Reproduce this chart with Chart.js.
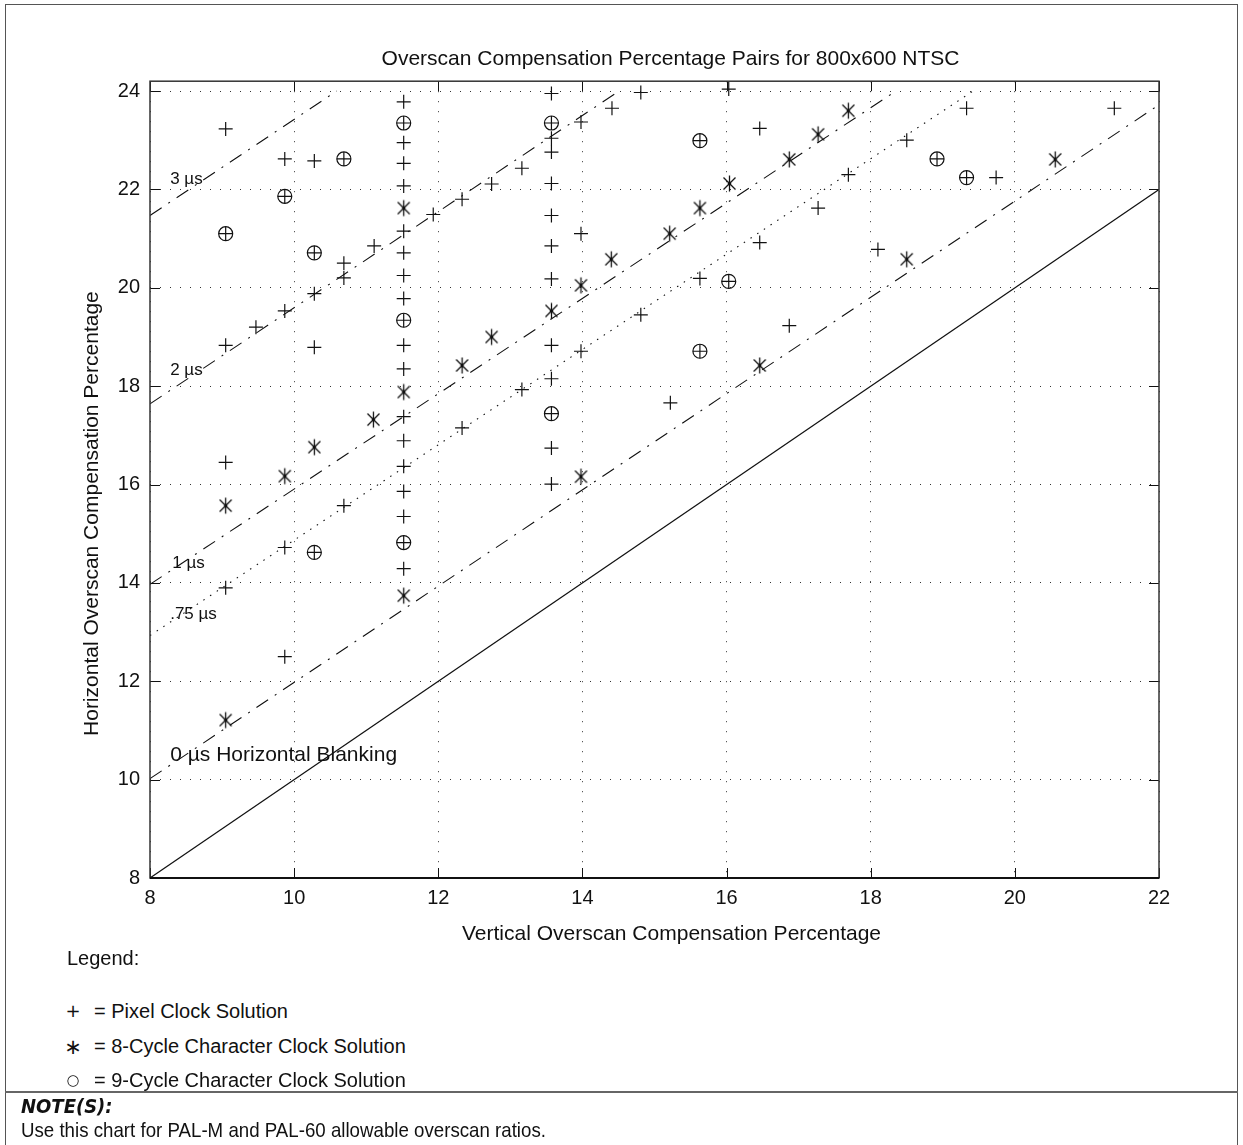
<!DOCTYPE html>
<html><head><meta charset="utf-8">
<script src="https://cdn.jsdelivr.net/npm/chart.js@4.4.1/dist/chart.umd.min.js"></script>
<style>
html,body{margin:0;padding:0;background:#fff;}
body{width:1243px;height:1145px;position:relative;overflow:hidden;font-family:"Liberation Sans",Arial,sans-serif;color:#111;}
#frame{position:absolute;left:5px;top:4px;width:1233px;height:1160px;border:1px solid #555;box-sizing:border-box;}
#sep{position:absolute;left:5px;width:1233px;top:1091px;height:0;border-top:2px solid #666;}
#wrap{position:absolute;left:0;top:0;width:1243px;height:960px;}
.leg{position:absolute;left:94px;font-size:20px;line-height:24px;white-space:nowrap;}
.sym{position:absolute;left:62px;width:22px;text-align:center;font-family:"DejaVu Sans",sans-serif;line-height:24px;}
.note{position:absolute;left:21px;font-size:21px;line-height:24px;white-space:nowrap;transform-origin:0 50%;}
</style></head>
<body>
<div id="frame"></div>
<div id="wrap"><canvas id="c"></canvas></div>
<div class="leg" style="top:946px;left:67px;">Legend:</div>
<div class="sym" style="top:999px;font-size:18px;">+</div><div class="leg" style="top:999px;">= Pixel Clock Solution</div>
<div class="sym" style="top:1035px;font-size:21px;">∗</div><div class="leg" style="top:1034px;">= 8-Cycle Character Clock Solution</div>
<div class="sym" style="top:1068px;font-size:15px;">○</div><div class="leg" style="top:1068px;">= 9-Cycle Character Clock Solution</div>
<div id="sep"></div>
<div class="note" style="top:1094px;font-family:'DejaVu Sans Condensed','DejaVu Sans',sans-serif;font-size:20px;font-weight:bold;font-style:italic;">NOTE(S):</div>
<div class="note" style="top:1118px;transform:scaleX(0.89);">Use this chart for PAL-M and PAL-60 allowable overscan ratios.</div>
<script>
// ---- data (Vertical %, Horizontal %) ----
const pixelClockPts = [
  [9.05,23.23],[9.05,21.10],[9.05,18.83],[9.05,16.45],[9.05,13.90],
  [9.47,19.20],
  [9.87,22.62],[9.87,21.86],[9.87,19.53],[9.87,14.72],[9.87,12.50],
  [10.28,22.58],[10.28,20.71],[10.28,19.88],[10.28,18.79],[10.28,14.62],
  [10.69,22.62],[10.69,20.50],[10.69,20.20],[10.69,15.57],
  [11.11,20.85],
  [11.52,23.78],[11.52,23.35],[11.52,22.95],[11.52,22.53],[11.52,22.07],[11.52,21.15],[11.52,20.71],
  [11.52,20.25],[11.52,19.78],[11.52,19.34],[11.52,18.83],[11.52,18.35],[11.52,17.38],[11.52,16.89],
  [11.52,16.37],[11.52,15.86],[11.52,15.35],[11.52,14.82],[11.52,14.29],
  [11.93,21.49],
  [12.33,21.80],[12.33,17.15],
  [12.74,22.11],
  [13.16,22.43],[13.16,17.93],
  [13.57,23.95],[13.57,23.35],[13.57,23.04],[13.57,22.76],[13.57,22.12],[13.57,21.47],[13.57,20.85],
  [13.57,20.18],[13.57,18.83],[13.57,18.15],[13.57,17.44],[13.57,16.74],[13.57,16.01],
  [13.98,23.37],[13.98,21.10],[13.98,18.71],
  [14.41,23.65],
  [14.81,23.97],[14.81,19.45],
  [15.22,17.66],
  [15.63,22.99],[15.63,20.19],[15.63,18.71],
  [16.03,24.04],[16.03,20.13],
  [16.46,23.24],[16.46,20.92],
  [16.87,19.23],
  [17.27,21.62],
  [17.69,22.30],
  [18.10,20.78],
  [18.50,23.00],
  [18.92,22.62],
  [19.33,23.65],[19.33,22.24],
  [19.74,22.24],
  [21.38,23.65]
];
const eightCyclePts = [
  [9.05,15.57],[9.05,11.21],[9.87,16.17],[10.28,16.76],[11.10,17.32],
  [11.52,21.62],[11.52,17.88],[11.52,13.74],[12.33,18.42],[12.74,19.00],
  [13.57,19.53],[13.98,20.05],[13.98,16.16],[14.40,20.58],[15.21,21.10],
  [15.63,21.62],[16.04,22.12],[16.46,18.42],[16.87,22.61],[17.27,23.12],
  [17.69,23.60],[18.50,20.58],[20.56,22.61]
];
const nineCyclePts = [
  [9.05,21.10],[9.87,21.86],[10.28,20.71],[10.28,14.62],[10.69,22.62],
  [11.52,23.35],[11.52,19.34],[11.52,14.82],[13.57,23.35],[13.57,17.44],
  [15.63,22.99],[15.63,18.71],[16.03,20.13],[18.92,22.62],[19.33,22.24]
];
// constant horizontal-blanking lines (end points)
const blank0Line   = [[8,8],[22,22]];
const blank0usLine = [[8,10.02],[22,23.72]];
const blank075Line = [[8,12.93],[19.42,24]];
const blank1Line   = [[8,13.97],[18.35,24]];
const blank2Line   = [[8,17.64],[14.51,24]];
const blank3Line   = [[8,21.47],[10.59,24]];
const xTicks = [8,10,12,14,16,18,20,22];
const yTicks = [8,10,12,14,16,18,20,22,24];
const lineLabelText = ['3 µs','2 µs','1 µs','.75 µs','0 µs Horizontal Blanking'];
const lineLabelPos  = [[8.28,22.2],[8.28,18.33],[8.31,14.4],[8.28,13.36],[8.28,10.5]];
const lineLabelSize = [17,17,17,17,21];

const toXY = a => a.map(p => ({x:p[0], y:p[1]}));
const INK = '#111';
const FONT = '"Liberation Sans", Arial, sans-serif';

function makeStar(){
  const c = document.createElement('canvas'); c.width = 19; c.height = 19;
  const g = c.getContext('2d'); g.strokeStyle = INK; g.lineWidth = 1.3; g.beginPath();
  g.moveTo(9.5,1.5); g.lineTo(9.5,17.5);
  g.moveTo(3.5,3.5); g.lineTo(15.5,15.5);
  g.moveTo(15.5,3.5); g.lineTo(3.5,15.5);
  g.stroke(); g.beginPath(); g.arc(9.5,9.5,1.7,0,Math.PI*2); g.fillStyle = INK; g.fill();
  return c;
}

const lineDS = (pts, dash, w) => ({type:'scatter', data: toXY(pts), showLine:true, borderColor:INK,
  borderWidth: w || 1.1, borderDash: dash, pointRadius:0, fill:false, order:5});

// titles in the original sit slightly right of / below the plot centre
const SHIFT_X = 17, SHIFT_Y = 34;
const titleShift = {
  id:'titleShift',
  afterLayout(chart){
    const t = chart.titleBlock, ca = chart.chartArea;
    if (t){ const d = (ca.left + ca.right) / 2 + 16 - (t.left + t.right) / 2; t.left += d; t.right += d; }
  },
  beforeDraw(chart){
    const sx = chart.scales.x, sy = chart.scales.y;
    sx.left += SHIFT_X; sx.right += SHIFT_X; sy.top += SHIFT_Y; sy.bottom += SHIFT_Y;
  },
  beforeDatasetsDraw(chart){
    const sx = chart.scales.x, sy = chart.scales.y;
    sx.left -= SHIFT_X; sx.right -= SHIFT_X; sy.top -= SHIFT_Y; sy.bottom -= SHIFT_Y;
  }
};

const framePlugin = {
  id:'frameTicks',
  afterDatasetsDraw(chart){
    const {ctx, chartArea:a, scales:{x, y}} = chart;
    ctx.save();
    ctx.strokeStyle = INK; ctx.lineWidth = 1;
    ctx.beginPath();
    const L = 10;
    x.ticks.forEach(t => { const px = Math.round(x.getPixelForValue(t.value)) + 0.5;
      ctx.moveTo(px, a.bottom); ctx.lineTo(px, a.bottom - L);
      ctx.moveTo(px, a.top); ctx.lineTo(px, a.top + L); });
    y.ticks.forEach(t => { const py = Math.round(y.getPixelForValue(t.value)) + 0.5;
      ctx.moveTo(a.left, py); ctx.lineTo(a.left + L, py);
      ctx.moveTo(a.right, py); ctx.lineTo(a.right - L, py); });
    ctx.stroke();
    ctx.lineWidth = 1.5; ctx.strokeStyle = '#333';
    ctx.strokeRect(a.left, a.top, a.right - a.left, a.bottom - a.top);
    ctx.lineWidth = 2.2; ctx.strokeStyle = INK;
    ctx.beginPath(); ctx.moveTo(a.left, a.bottom); ctx.lineTo(a.right, a.bottom); ctx.stroke();
    ctx.fillStyle = INK; ctx.textBaseline = 'middle'; ctx.textAlign = 'left';
    lineLabelText.forEach((s, i) => {
      ctx.font = lineLabelSize[i] + 'px ' + FONT;
      ctx.fillText(s, x.getPixelForValue(lineLabelPos[i][0]), y.getPixelForValue(lineLabelPos[i][1]));
    });
    ctx.restore();
  }
};

new Chart(document.getElementById('c'), {
  type:'scatter',
  data:{ datasets:[
    lineDS(blank0Line, [], 1.2),
    lineDS(blank0usLine, [14,8,2,8]),
    lineDS(blank075Line, [1.5,6.5]),
    lineDS(blank1Line, [14,8,2,8]),
    lineDS(blank2Line, [14,8,2,8]),
    lineDS(blank3Line, [14,8,2,8]),
    {label:'Pixel Clock Solution', data: toXY(pixelClockPts), pointStyle:'cross', pointRadius:7,
      borderColor:INK, borderWidth:1.2, backgroundColor:'transparent', order:1},
    {label:'8-Cycle Character Clock Solution', data: toXY(eightCyclePts), pointStyle: makeStar(), pointRadius:9,
      borderColor:INK, backgroundColor:INK, order:1},
    {label:'9-Cycle Character Clock Solution', data: toXY(nineCyclePts), pointStyle:'circle', pointRadius:7,
      borderColor:INK, borderWidth:1.2, backgroundColor:'transparent', order:1}
  ]},
  options:{
    responsive:true, maintainAspectRatio:false, animation:false, events:[],
    layout:{padding:{left:0, right:84, top:0, bottom:10}},
    plugins:{
      legend:{display:false}, tooltip:{enabled:false},
      title:{display:true, text:'Overscan Compensation Percentage Pairs for 800x600 NTSC', color:INK,
        font:{family:FONT, size:21, weight:'normal'}, padding:{top:47, bottom:9}}
    },
    scales:{
      x:{type:'linear', min:8, max:22, afterBuildTicks(s){ s.ticks = xTicks.map(v => ({value:v})); },
        afterFit(s){ s.height = 72; },
        ticks:{color:INK, font:{family:FONT, size:20}, padding:8},
        grid:{color:'#333', lineWidth:1, drawTicks:false},
        border:{display:false, dash:[1,9]},
        title:{display:true, text:'Vertical Overscan Compensation Percentage', color:INK,
          font:{family:FONT, size:21}, padding:{top:0, bottom:3}}},
      y:{type:'linear', min:8, max:24.2, afterBuildTicks(s){ s.ticks = yTicks.map(v => ({value:v})); },
        afterFit(s){ s.width = 150; },
        ticks:{color:INK, font:{family:FONT, size:20}, padding:10},
        grid:{color:'#333', lineWidth:1, drawTicks:false},
        border:{display:false, dash:[1,9]},
        title:{display:true, text:'Horizontal Overscan Compensation Percentage', color:INK,
          font:{family:FONT, size:21}, padding:{top:80, bottom:0}}}
    }
  },
  plugins:[titleShift, framePlugin]
});
</script>
</body></html>
